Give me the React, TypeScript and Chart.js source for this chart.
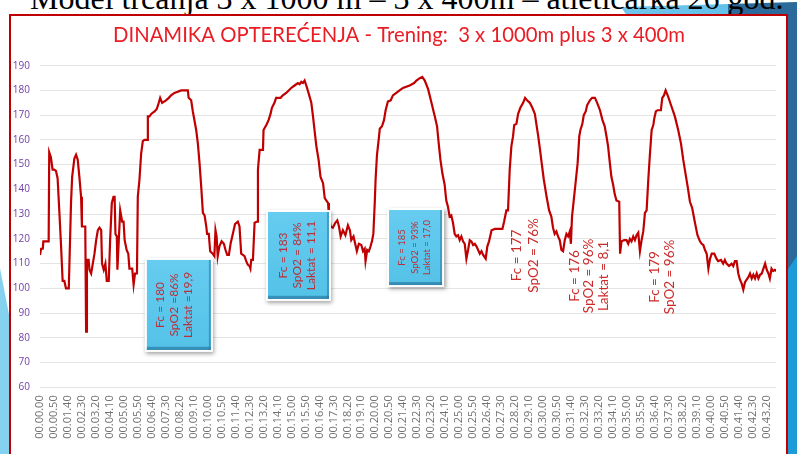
import React, { useEffect, useRef } from "react";
import { Chart, registerables } from "chart.js";

Chart.register(...registerables);

// ---- data ----
const timeSec = [
  0, 4, 10, 12, 31, 33, 39, 45, 51, 57, 63, 69, 75, 81, 87, 93, 103, 111, 115, 123,
  129, 135, 141, 147, 150, 162, 165, 168, 174, 177, 183, 189, 195, 201, 207, 213, 219, 222, 228, 234,
  239, 246, 251, 257, 263, 267, 270, 275, 277, 282, 287, 294, 299, 303, 310, 316, 320, 330, 335, 340,
  347, 350, 356, 362, 368, 374, 383, 386, 392, 398, 410, 418, 425, 430, 437, 451, 461, 469, 481, 493,
  505, 529, 532, 541, 547, 559, 565, 571, 577, 583, 589, 595, 598, 604, 609, 618, 624, 628, 632, 636,
  642, 650, 658, 664, 670, 676, 682, 690, 698, 708, 714, 720, 732, 738, 744, 750, 753, 756, 762, 768,
  777, 780, 786, 798, 800, 810, 818, 825, 830, 839, 845, 861, 869, 881, 890, 899, 911, 923, 929, 935,
  941, 947, 953, 961, 971, 977, 983, 989, 997, 1004, 1013, 1019, 1025, 1031, 1034, 1040, 1048, 1057, 1064, 1070,
  1076, 1084, 1093, 1102, 1109, 1114, 1122, 1128, 1134, 1141, 1150, 1156, 1162, 1165, 1171, 1177, 1183, 1188, 1193, 1198,
  1201, 1206, 1212, 1216, 1224, 1231, 1237, 1245, 1255, 1263, 1275, 1287, 1299, 1311, 1323, 1339, 1347, 1359, 1368, 1377,
  1389, 1401, 1413, 1421, 1427, 1433, 1440, 1448, 1454, 1460, 1466, 1472, 1478, 1484, 1490, 1496, 1502, 1508, 1514, 1520,
  1526, 1532, 1538, 1544, 1550, 1556, 1562, 1568, 1574, 1580, 1586, 1595, 1601, 1607, 1612, 1616, 1628, 1639, 1655, 1661,
  1669, 1675, 1681, 1687, 1693, 1697, 1705, 1711, 1719, 1729, 1736, 1743, 1753, 1762, 1771, 1777, 1783, 1789, 1795, 1803,
  1813, 1822, 1830, 1836, 1842, 1848, 1854, 1860, 1866, 1872, 1878, 1884, 1890, 1896, 1900, 1904, 1910, 1918, 1924, 1930,
  1934, 1941, 1946, 1953, 1958, 1968, 1976, 1986, 1994, 2004, 2013, 2021, 2028, 2033, 2039, 2045, 2051, 2057, 2063, 2073,
  2076, 2081, 2091, 2099, 2105, 2111, 2117, 2123, 2129, 2135, 2141, 2147, 2153, 2159, 2165, 2171, 2177, 2183, 2189, 2195,
  2198, 2204, 2210, 2222, 2227, 2233, 2239, 2248, 2260, 2272, 2284, 2294, 2302, 2310, 2318, 2326, 2334, 2344, 2353, 2362,
  2368, 2374, 2380, 2386, 2392, 2398, 2404, 2413, 2421, 2427, 2437, 2445, 2451, 2457, 2466, 2475, 2481, 2487, 2493, 2499,
  2505, 2511, 2517, 2523, 2535, 2541, 2547, 2553, 2559, 2565, 2571, 2577, 2583, 2589, 2595, 2601, 2607, 2612, 2618, 2624,
  2630, 2636,
];

const heartRate = [
  113.5, 116, 116, 119, 119, 155, 153, 148, 148, 147.5, 144.5, 131.5, 118, 103, 103, 100, 100, 134.5, 145, 152.5,
  154, 152, 145, 137, 125, 125, 82.5, 111.5, 111.5, 107.5, 106, 110, 114, 119.5, 123.5, 124.5, 123.5, 110, 107.5, 110,
  103, 103, 119.5, 134.5, 137, 137, 122, 121, 107.5, 119.5, 131.5, 127, 127, 119.5, 115.5, 114, 108, 108, 101.5, 106,
  106, 137, 144, 154.5, 159.5, 160, 160, 169.5, 169.5, 170.5, 171.5, 172.5, 175, 177, 175, 176, 177, 178, 179, 179.5,
  180, 180, 177, 176, 171.5, 164, 158.5, 150.5, 141, 130.5, 129.5, 125, 122, 122, 115, 114, 113, 123.5, 121, 113,
  117, 119, 118, 115.5, 113.5, 113.5, 118, 122, 126, 127, 125, 114, 113, 111, 109.5, 109, 108, 111.5, 111.5, 126.5,
  127, 148, 156, 156, 164, 166, 168, 170.5, 173, 175, 177, 177, 178, 179, 180, 181, 182, 183, 182.5, 183.5,
  183, 184, 182, 179, 175, 169.5, 163.5, 157.5, 152, 145, 142.5, 136.5, 135.5, 134.5, 129, 125, 124.5, 126.5, 127.5, 125,
  121, 123.5, 121.5, 125.5, 123.5, 119.5, 121, 118, 115, 118, 117.5, 115, 116, 111, 115.5, 115, 117, 119, 122, 134.5,
  144, 154, 160, 164.5, 165.5, 168, 172, 175.5, 176, 178, 179, 180, 181, 181.5, 182, 183, 184, 185, 185.5, 184,
  180.5, 175, 169.5, 165.5, 158.5, 152, 146.5, 142, 135.5, 133, 129, 129.5, 126.5, 122, 121, 121.5, 119.5, 121, 119, 118,
  112, 115.5, 119.5, 119, 117.5, 118, 117, 115.5, 114, 115, 113.5, 112, 117, 119, 121.5, 123.5, 124, 124, 124, 127,
  131.5, 131.5, 148, 157.5, 161.5, 166, 166.5, 170.5, 173, 175, 177, 176, 175, 173, 170.5, 166, 161.5, 156.5, 151, 144,
  137, 131.5, 129, 124.5, 122, 123, 121, 119.5, 115.5, 115, 119.5, 122, 121, 123, 118, 129, 135.5, 144, 150.5, 161.5,
  164, 166.5, 170, 171.5, 174, 176, 177, 177, 175, 172, 168, 165.5, 161, 157.5, 151, 145, 142, 138, 135.5, 135,
  114, 119, 119.5, 119.5, 118, 120, 119, 121, 119.5, 121.5, 122.5, 115, 119.5, 123, 130.5, 131.5, 144, 154.5, 164, 166,
  168.5, 171.5, 172, 172, 177, 178, 180, 177.5, 173.5, 169.5, 164, 158.5, 152, 146.5, 141, 135, 132.5, 126.5, 121.5, 119,
  118, 117.5, 115.5, 114, 108, 112, 114, 114, 112, 111, 111.5, 110, 111.5, 110, 109, 110, 109, 111, 111, 106,
  103.5, 102, 99.5, 102.5, 104.5, 106, 104, 105.5, 104, 106, 104, 105.5, 106, 108, 110, 107.5, 106, 104, 108, 107,
  107.5, 107,
];

const xMin = 0;
const xMax = 2634;
const xTickStep = 50;
const yMin = 60;
const yMax = 190;
const yTickStep = 10;

const captionText = "Model trčanja 3 x 1000 m – 3 x 400m – atletičarka 26 god.";
const titleText = "DINAMIKA OPTEREĆENJA - Trening:  3 x 1000m plus 3 x 400m";

// annotation texts
const note1Lines = ["Fc = 180", "SpO2 =86%", "Laktat =19,9"];
const note2Lines = ["Fc = 183", "SpO2 = 84%", "Laktat = 11,1"];
const note3Lines = ["Fc = 185", "SpO2 = 93%", "Laktat = 17,0"];
const note4Lines = ["Fc = 177", "SpO2 = 76%"];
const note5Lines = ["Fc = 176", "SpO2 = 96%", "Laktat = 8,1"];
const note6Lines = ["Fc = 179", "SpO2 = 96%"];

// anchors in data coordinates (seconds, bpm)
const notes = [
  { t: 497, v: 93.3, box: true, w: 64, h: 90, dx: -5, size: 12, gap: 14, lines: note1Lines },
  { t: 925, v: 113.3, box: true, w: 61, h: 87, dx: -1.5, size: 12, gap: 14, lines: note2Lines },
  { t: 1344, v: 116.5, box: true, w: 53, h: 75, dx: -1, size: 9.5, gap: 12.5, lines: note3Lines },
  { t: 1736, v: 113.3, box: false, w: 0, h: 0, dx: 0, size: 13.5, gap: 16.6, lines: note4Lines },
  { t: 1964, v: 105, box: false, w: 0, h: 0, dx: 0, size: 13.5, gap: 14.6, lines: note5Lines },
  { t: 2228, v: 104.6, box: false, w: 0, h: 0, dx: 0, size: 13.5, gap: 15, lines: note6Lines },
];

function fmtTime(sec: number): string {
  const s = Math.round(sec);
  const m = Math.floor(s / 60);
  const ss = s % 60;
  return "00." + String(m).padStart(2, "0") + "." + String(ss).padStart(2, "0");
}

// title drawn centred on the slide frame rather than the canvas
const titlePlugin = {
  id: "frameTitle",
  afterDraw(chart: any) {
    const ctx: CanvasRenderingContext2D = chart.ctx;
    ctx.save();
    ctx.fillStyle = "#ea1c24";
    ctx.font = "20.3px Lato";
    ctx.textAlign = "center";
    ctx.textBaseline = "middle";
    ctx.fillText(titleText, 399, 35);
    ctx.restore();
  },
};

const notesPlugin = {
  id: "notesPlugin",
  afterDatasetsDraw(chart: any) {
    const ctx: CanvasRenderingContext2D = chart.ctx;
    const xs = chart.scales.x;
    const ys = chart.scales.y;
    for (const n of notes) {
      const cx = xs.getPixelForValue(n.t);
      const cy = ys.getPixelForValue(n.v);
      if (n.box) {
        const x0 = cx - n.w / 2;
        const y0 = cy - n.h / 2;
        ctx.save();
        ctx.shadowColor = "rgba(0,0,0,0.35)";
        ctx.shadowBlur = 4;
        ctx.shadowOffsetX = 1.5;
        ctx.shadowOffsetY = 2;
        ctx.fillStyle = "#ffffff";
        ctx.fillRect(x0 - 2, y0 - 2, n.w + 4, n.h + 4);
        ctx.restore();
        ctx.save();
        const g = ctx.createLinearGradient(0, y0, 0, y0 + n.h);
        g.addColorStop(0, "#66ccf0");
        g.addColorStop(0.95, "#55c2e8");
        g.addColorStop(1, "#3d9cc2");
        ctx.fillStyle = g;
        ctx.fillRect(x0, y0, n.w, n.h);
        ctx.fillStyle = "rgba(40,120,160,0.55)";
        ctx.fillRect(x0, y0 + n.h - 3, n.w, 3);
        ctx.fillRect(x0 + n.w - 2, y0, 2, n.h);
        ctx.restore();
      }
      ctx.save();
      ctx.translate(cx + n.dx, cy);
      ctx.rotate(-Math.PI / 2);
      ctx.fillStyle = n.box ? "#b8323c" : "#cc2a2a";
      ctx.font = `${n.size}px Lato`;
      ctx.textAlign = "center";
      ctx.textBaseline = "middle";
      const count = n.lines.length;
      n.lines.forEach((line, i) => {
        ctx.fillText(line, 0, (i - (count - 1) / 2) * n.gap);
      });
      ctx.restore();
    }
  },
};

function ChartCanvas() {
  const ref = useRef<HTMLCanvasElement | null>(null);
  useEffect(() => {
    if (!ref.current) return;
    const points = timeSec.map((t, i) => ({ x: t, y: heartRate[i] }));
    const chart = new Chart(ref.current, {
      type: "line",
      data: {
        datasets: [
          {
            data: points,
            borderColor: "#c00000",
            borderWidth: 2.2,
            pointRadius: 0,
            tension: 0,
            fill: false,
          },
        ],
      },
      options: {
        animation: false,
        responsive: false,
        events: [],
        layout: { padding: { left: 0, right: 21, top: 65.7, bottom: 0 } },
        plugins: {
          legend: { display: false },
          tooltip: { enabled: false },
          title: { display: false },
        },
        scales: {
          x: {
            type: "linear",
            min: xMin,
            max: xMax,
            grid: { display: false, drawTicks: false },
            border: { display: false },
            afterFit: (scale: any) => {
              scale.height = 66.7;
            },
            ticks: {
              stepSize: xTickStep,
              includeBounds: false,
              autoSkip: false,
              minRotation: 90,
              maxRotation: 90,
              padding: 8,
              color: "#707070",
              font: { family: "Open Sans", size: 11 },
              callback: (value: any) => fmtTime(Number(value)),
            },
          },
          y: {
            min: yMin,
            max: yMax,
            grid: { color: "#e4e4e4", lineWidth: 1, drawTicks: false },
            border: { display: false },
            afterFit: (scale: any) => {
              scale.width = 40;
            },
            ticks: {
              stepSize: yTickStep,
              padding: 10,
              color: "#7040a8",
              font: { family: "Open Sans", size: 10 },
            },
          },
        },
      },
      plugins: [notesPlugin, titlePlugin],
    });
    return () => chart.destroy();
  }, []);
  return (
    <canvas
      ref={ref}
      width={797}
      height={454}
      style={{ position: "absolute", left: 0, top: 0, width: 797, height: 454 }}
    />
  );
}

export default function App() {
  return (
    <div
      style={{
        position: "absolute",
        left: 0,
        top: 0,
        width: 797,
        height: 454,
        overflow: "hidden",
        background: "#ffffff",
      }}
    >
      {/* slide decorations */}
      <div
        style={{
          position: "absolute",
          left: 0,
          top: 0,
          width: 797,
          height: 454,
          background: "linear-gradient(90deg, #b4e2f4, #5cbde8)",
          clipPath: "polygon(621px 7px, 729px 4px, 729px 16px, 627px 16px)",
        }}
      />
      <div
        style={{
          position: "absolute",
          left: 0,
          top: 0,
          width: 797,
          height: 454,
          background: "#2b6a9b",
          clipPath: "polygon(728px 4px, 797px 2px, 797px 454px, 780px 454px, 780px 16px, 728px 16px)",
        }}
      />
      <div
        style={{
          position: "absolute",
          left: 0,
          top: 0,
          width: 797,
          height: 454,
          background: "#1d9bd8",
          clipPath: "polygon(786px 272px, 797px 256px, 797px 454px, 786px 454px)",
        }}
      />
      <div
        style={{
          position: "absolute",
          left: 0,
          top: 0,
          width: 797,
          height: 454,
          background: "#84d2ef",
          clipPath: "polygon(0 268px, 12px 330px, 12px 454px, 0 454px)",
        }}
      />
      {/* caption, mostly above the visible area */}
      <div
        style={{
          position: "absolute",
          left: 30,
          top: -18.3,
          fontFamily: "'Liberation Serif', 'Times New Roman', serif",
          fontSize: 32,
          lineHeight: "32px",
          whiteSpace: "nowrap",
          color: "#000",
        }}
      >
        {captionText}
      </div>
      {/* chart frame */}
      <div
        style={{
          position: "absolute",
          left: 9,
          top: 14,
          width: 779,
          height: 470,
          boxSizing: "border-box",
          border: "2px solid #c00000",
          background: "#ffffff",
        }}
      />
      <ChartCanvas />
    </div>
  );
}
